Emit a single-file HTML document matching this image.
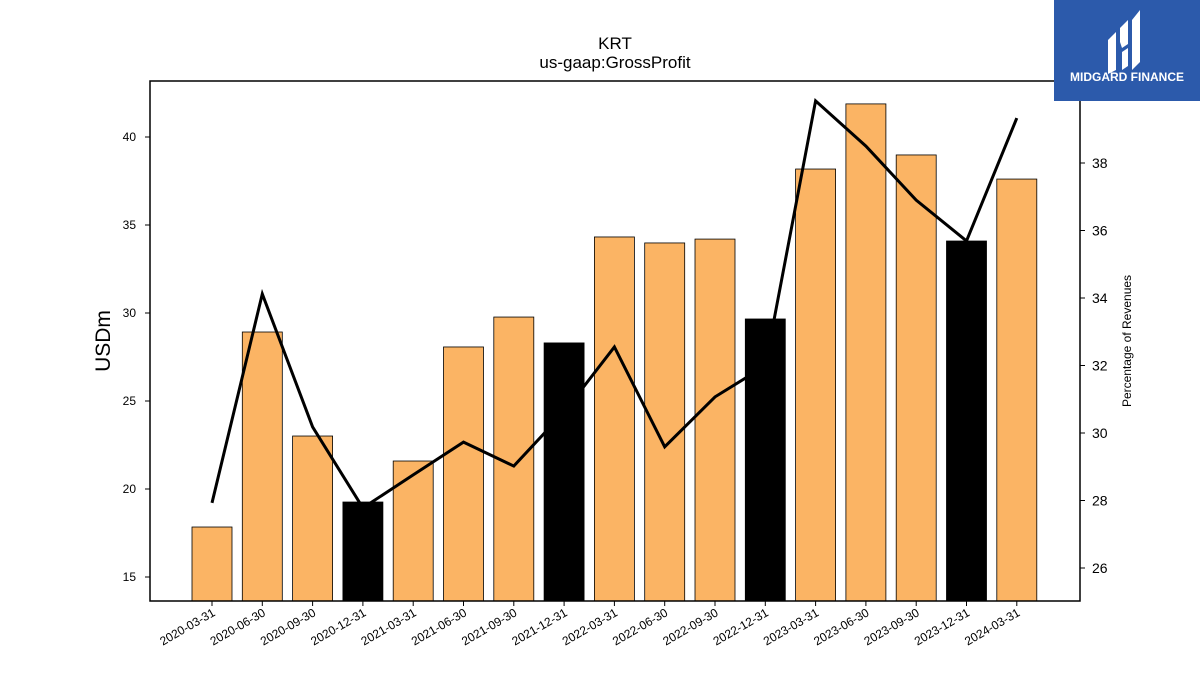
<!DOCTYPE html>
<html><head><meta charset="utf-8"><style>
html,body{margin:0;padding:0;background:#fff;}
body{width:1200px;height:675px;overflow:hidden;position:relative;font-family:"Liberation Sans",sans-serif;}
#logo{position:absolute;left:1054px;top:0;width:146px;height:101px;background:#2c5aab;}
</style></head><body>
<svg id="chart" width="1200" height="675" style="position:absolute;left:0;top:0" font-family="Liberation Sans, sans-serif"></svg>
<div id="logo">
<svg width="146" height="101">
<path d="M54 40 L62 32 L62 70 L54 74 Z M66 28 L74 20 L74 44 L68 48 L66 42 Z M68 52 L74 48 L74 66 L68 70 Z M78 20 L86 10 L86 62 L78 70 Z" fill="#fff"/>
<text x="73" y="81" text-anchor="middle" fill="#fff" font-size="12" font-weight="bold" font-family="Liberation Sans, sans-serif">MIDGARD FINANCE</text>
</svg></div>
<script>
const categories=["2020-03-31","2020-06-30","2020-09-30","2020-12-31","2021-03-31","2021-06-30","2021-09-30","2021-12-31","2022-03-31","2022-06-30","2022-09-30","2022-12-31","2023-03-31","2023-06-30","2023-09-30","2023-12-31","2024-03-31"];
const grossProfit=[17.84,28.92,23.01,19.26,21.59,28.07,29.77,28.30,34.32,33.98,34.20,29.66,38.18,41.88,38.98,34.09,37.61];
const pctRevenue=[27.93,34.12,30.18,27.78,28.76,29.73,29.02,30.62,32.55,29.59,31.07,31.99,39.84,38.50,36.90,35.69,39.33];
const leftTicks=[15,20,25,30,35,40];
const rightTicks=[26,28,30,32,34,36,38];

const svg=document.getElementById('chart');
const NS='http://www.w3.org/2000/svg';
const L=150,R=1080,T=81,B=601;
const yL=v=>577-(v-15)*17.6;
const yR=v=>568-(v-26)*33.75;
const x=i=>212+i*50.3;
function mk(tag,attrs,parent){const e=document.createElementNS(NS,tag);for(const k in attrs)e.setAttribute(k,attrs[k]);(parent||svg).appendChild(e);return e;}

const t1=mk('text',{x:615,y:49,'text-anchor':'middle','font-size':17});t1.textContent='KRT';


const t2=mk('text',{x:615,y:68,'text-anchor':'middle','font-size':17});t2.textContent='us-gaap:GrossProfit';



categories.forEach((c,i)=>{
  const black=c.endsWith('12-31');
  const b=mk('rect',{x:x(i)-20,y:yL(grossProfit[i]),width:40,height:B-yL(grossProfit[i]),fill:black?'#000':'#fbb464',stroke:'#000','stroke-width':0.8});
  
  
  mk('line',{x1:x(i),x2:x(i),y1:B,y2:B+5,stroke:'#000'});
  const lb=mk('text',{'font-size':12,'text-anchor':'end',transform:`translate(${x(i)+4},${B+14}) rotate(-30)`});
  lb.textContent=c;
  
  
});
const pl=mk('polyline',{points:pctRevenue.map((v,i)=>x(i)+','+yR(v)).join(' '),fill:'none',stroke:'#000','stroke-width':3});



const fr=mk('rect',{x:L,y:T,width:R-L,height:B-T,fill:'none',stroke:'#000','stroke-width':1.5});



leftTicks.forEach(v=>{
  mk('line',{x1:L-5,x2:L,y1:yL(v),y2:yL(v),stroke:'#000'});
  const t=mk('text',{x:L-14,y:yL(v)+4,'text-anchor':'end','font-size':12});t.textContent=v;
  
  
});
rightTicks.forEach(v=>{
  mk('line',{x1:R,x2:R+5,y1:yR(v),y2:yR(v),stroke:'#000'});
  const t=mk('text',{x:R+12,y:yR(v)+5,'font-size':14});t.textContent=v;
  
  
});
const yl=mk('text',{'font-size':21,'text-anchor':'middle',transform:'translate(110,341) rotate(-90)'});yl.textContent='USDm';


const yr=mk('text',{'font-size':12,'text-anchor':'middle',transform:'translate(1131,341) rotate(-90)'});yr.textContent='Percentage of Revenues';


</script>
</body></html>
